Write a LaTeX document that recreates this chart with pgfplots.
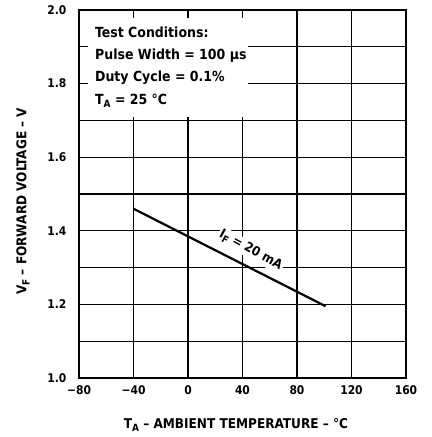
\documentclass[border=0pt]{standalone}
\usepackage{fontspec}
\setmainfont{DejaVu Sans Condensed}
\usepackage{pgfplots}
\pgfplotsset{compat=1.18}
\usetikzlibrary{calc}
\newcommand\sub[1]{\raisebox{-0.45ex}{\fontsize{10}{10}\selectfont #1}}

\begin{document}
\begin{tikzpicture}
\begin{axis}[
    scale only axis,
    width=327bp, height=368bp,
    xmin=-80, xmax=160, ymin=1.0, ymax=2.0,
    xtick={-80,-40,...,160},
    xticklabels={−80,−40,0,40,80,120,160},
    ytick={1.0,1.2,1.4,1.6,1.8,2.0},
    yticklabels={1.0,1.2,1.4,1.6,1.8,2.0},
    minor ytick={1.1,1.3,1.5,1.7,1.9},
    major tick length=0pt, minor tick length=0pt,
    grid=both,
    major grid style={black, line width=1.2bp},
    minor grid style={black, line width=1.2bp},
    axis line style={black, line width=1.8bp},
    tick label style={font=\bfseries\fontsize{12}{14}\selectfont},
    xticklabel style={yshift=-4bp},
    yticklabel style={xshift=-9bp},
    xlabel={\bfseries T\sub{A} – AMBIENT TEMPERATURE – °C},
    ylabel={\bfseries V\sub{F} – FORWARD VOLTAGE – V},
    label style={font=\fontsize{13.5}{15}\selectfont},
    xlabel style={at={(axis description cs:0.48,0)}, anchor=center, yshift=-47bp},
    ylabel style={at={(axis description cs:0,0.48)}, anchor=center, yshift=56bp},
    clip=false,
]
\coordinate (sw) at (rel axis cs:0,0);
% test conditions box hides the grid
\fill[white] (axis cs:-73.4,1.709) rectangle (axis cs:44,1.978);
\node[anchor=north west, align=left, inner sep=0pt,
      font=\bfseries\fontsize{14}{22.3}\selectfont]
  at (axis cs:-68.3,1.955) {Test Conditions:\\Pulse Width = 100 µs\\Duty Cycle = 0.1\%\\T\sub{A} = 25 °C};
\node[fill=white, rotate=-29, inner sep=1.5bp,
      font=\bfseries\fontsize{13}{15}\selectfont]
  at (axis cs:46,1.347) {I\sub{F} = 20 mA};
\addplot[black, line width=2.2bp] coordinates {(-40,1.46) (101,1.195)};
\end{axis}
\pgfresetboundingbox
\path ($(sw)+(-79bp,-59bp)$) rectangle ($(sw)+(353bp,378bp)$);
\end{tikzpicture}
\end{document}
